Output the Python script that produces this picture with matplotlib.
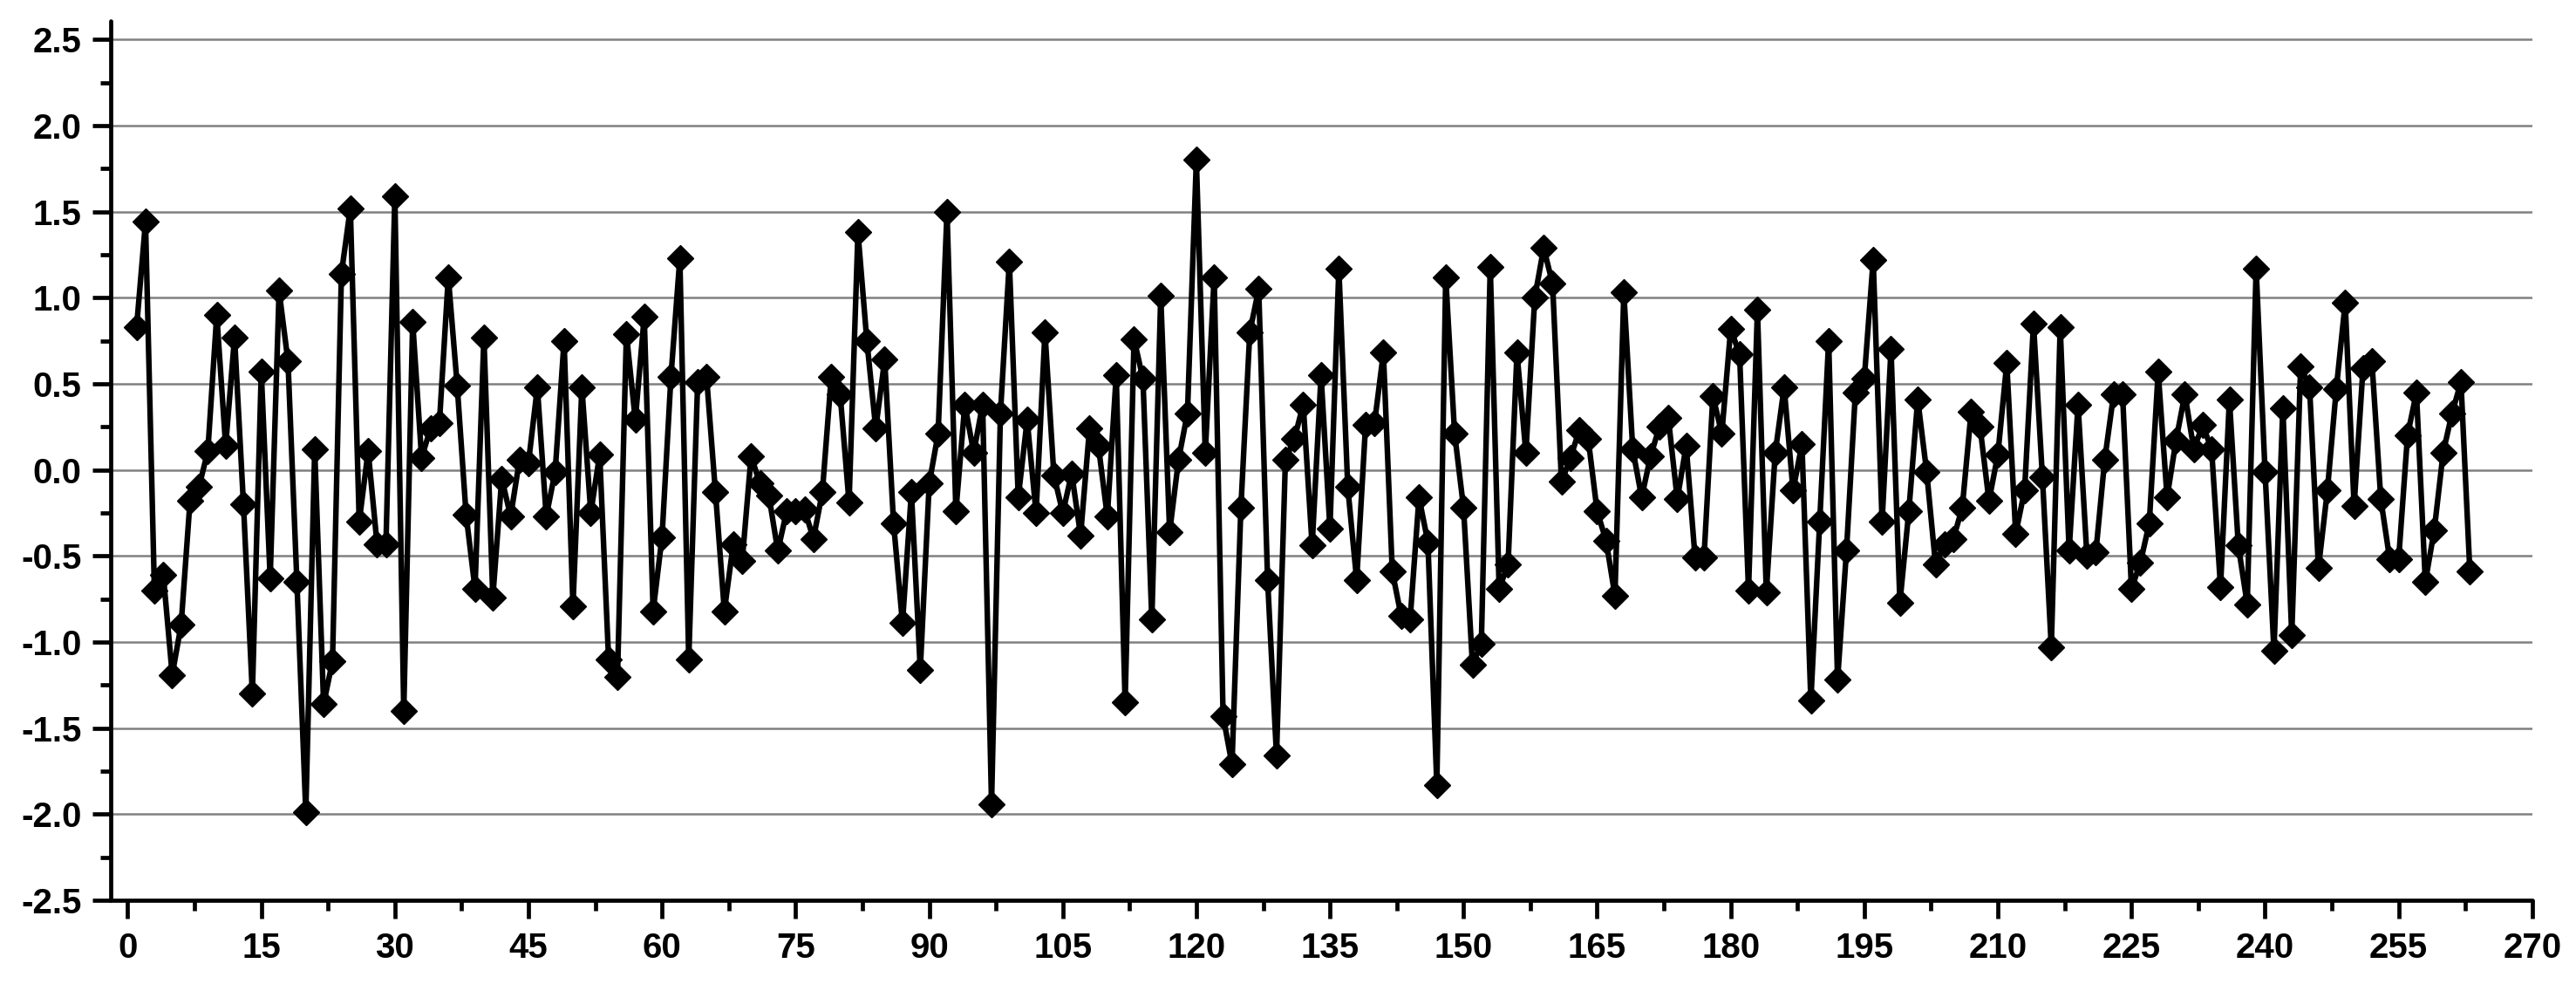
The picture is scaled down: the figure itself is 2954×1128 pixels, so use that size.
import matplotlib
matplotlib.use("Agg")
import matplotlib.pyplot as plt
from matplotlib.ticker import MultipleLocator
import numpy as np

values = [
    0.83, 1.44, -0.70, -0.61, -1.19, -0.90, -0.18, -0.10, 0.11, 0.90,
    0.14, 0.77, -0.20, -1.30, 0.57, -0.63, 1.04, 0.63, -0.65, -1.99,
    0.12, -1.36, -1.11, 1.14, 1.52, -0.30, 0.11, -0.43, -0.43, 1.59,
    -1.40, 0.86, 0.07, 0.24, 0.27, 1.12, 0.49, -0.26, -0.69, 0.77,
    -0.74, -0.05, -0.27, 0.06, 0.04, 0.48, -0.27, -0.01, 0.75, -0.79,
    0.48, -0.25, 0.09, -1.10, -1.20, 0.79, 0.29, 0.89, -0.82, -0.39,
    0.54, 1.23, -1.10, 0.51, 0.54, -0.13, -0.82, -0.43, -0.53, 0.08,
    -0.08, -0.15, -0.47, -0.24, -0.24, -0.23, -0.40, -0.13, 0.54, 0.44,
    -0.19, 1.38, 0.75, 0.24, 0.64, -0.31, -0.89, -0.13, -1.16, -0.08,
    0.21, 1.50, -0.24, 0.38, 0.10, 0.38, -1.94, 0.33, 1.21, -0.16,
    0.29, -0.25, 0.80, -0.03, -0.25, -0.02, -0.38, 0.24, 0.14, -0.27,
    0.55, -1.35, 0.76, 0.53, -0.87, 1.01, -0.36, 0.06, 0.33, 1.80,
    0.10, 1.12, -1.43, -1.71, -0.22, 0.80, 1.05, -0.64, -1.66, 0.06,
    0.18, 0.38, -0.44, 0.55, -0.34, 1.17, -0.10, -0.64, 0.26, 0.27,
    0.68, -0.59, -0.85, -0.87, -0.16, -0.42, -1.83, 1.12, 0.21, -0.22,
    -1.13, -1.01, 1.18, -0.69, -0.55, 0.68, 0.10, 1.00, 1.29, 1.08,
    -0.07, 0.07, 0.23, 0.18, -0.24, -0.41, -0.73, 1.03, 0.12, -0.16,
    0.08, 0.25, 0.30, -0.17, 0.14, -0.51, -0.51, 0.43, 0.21, 0.82,
    0.67, -0.70, 0.93, -0.71, 0.10, 0.48, -0.12, 0.15, -1.34, -0.30,
    0.75, -1.22, -0.47, 0.45, 0.53, 1.22, -0.30, 0.70, -0.77, -0.24,
    0.41, -0.01, -0.55, -0.43, -0.40, -0.22, 0.34, 0.25, -0.18, 0.09,
    0.62, -0.37, -0.12, 0.85, -0.04, -1.03, 0.83, -0.47, 0.38, -0.50,
    -0.48, 0.06, 0.44, 0.44, -0.69, -0.54, -0.31, 0.57, -0.16, 0.17,
    0.44, 0.12, 0.26, 0.12, -0.68, 0.41, -0.44, -0.78, 1.17, -0.01,
    -1.05, 0.36, -0.96, 0.60, 0.48, -0.57, -0.12, 0.47, 0.97, -0.21,
    0.59, 0.63, -0.17, -0.52, -0.52, 0.20, 0.45, -0.65, -0.35, 0.10,
    0.33, 0.51, -0.59,
]
x_index = list(range(1, len(values) + 1))
x_ticks = list(range(0, 271, 15))
y_ticks = [-2.5, -2.0, -1.5, -1.0, -0.5, 0.0, 0.5, 1.0, 1.5, 2.0, 2.5]

plt.rcParams['font.family'] = ['Liberation Sans', 'DejaVu Sans']
plt.rcParams['font.weight'] = 'bold'

fig = plt.figure(figsize=(29.54, 11.28), dpi=100)
ax = fig.add_axes([0.043, 0.085, 0.940, 0.8935])

ax.plot(x_index, values, color='black', linewidth=4.6, marker='D',
        markersize=15, markerfacecolor='black', markeredgecolor='black',
        zorder=3)

ax.set_xlim(-1.9, 270)
ax.set_ylim(-2.5, 2.606)
ax.set_xticks(x_ticks)
ax.set_xticklabels([str(t) for t in x_ticks])
ax.set_yticks(y_ticks)
ax.set_yticklabels([f"{t:.1f}" for t in y_ticks])
ax.xaxis.set_minor_locator(MultipleLocator(7.5))
ax.yaxis.set_minor_locator(MultipleLocator(0.25))

ax.grid(axis='y', which='major', color='#808080', linewidth=1.8, zorder=0)
ax.set_axisbelow(True)

for s in ['top', 'right']:
    ax.spines[s].set_visible(False)
for s in ['left', 'bottom']:
    ax.spines[s].set_linewidth(3.4)
    ax.spines[s].set_capstyle('round')

ax.tick_params(axis='both', which='major', length=15, width=3.4,
               labelsize=29, direction='out', color='black')
ax.tick_params(axis='both', which='minor', length=8.5, width=3.4,
               direction='out', color='black')
ax.tick_params(axis='x', which='major', pad=11)
ax.tick_params(axis='y', which='major', pad=9)
for lab in ax.get_xticklabels() + ax.get_yticklabels():
    lab.set_fontweight('bold')

fig.savefig('out.png', dpi=100, facecolor='white')
